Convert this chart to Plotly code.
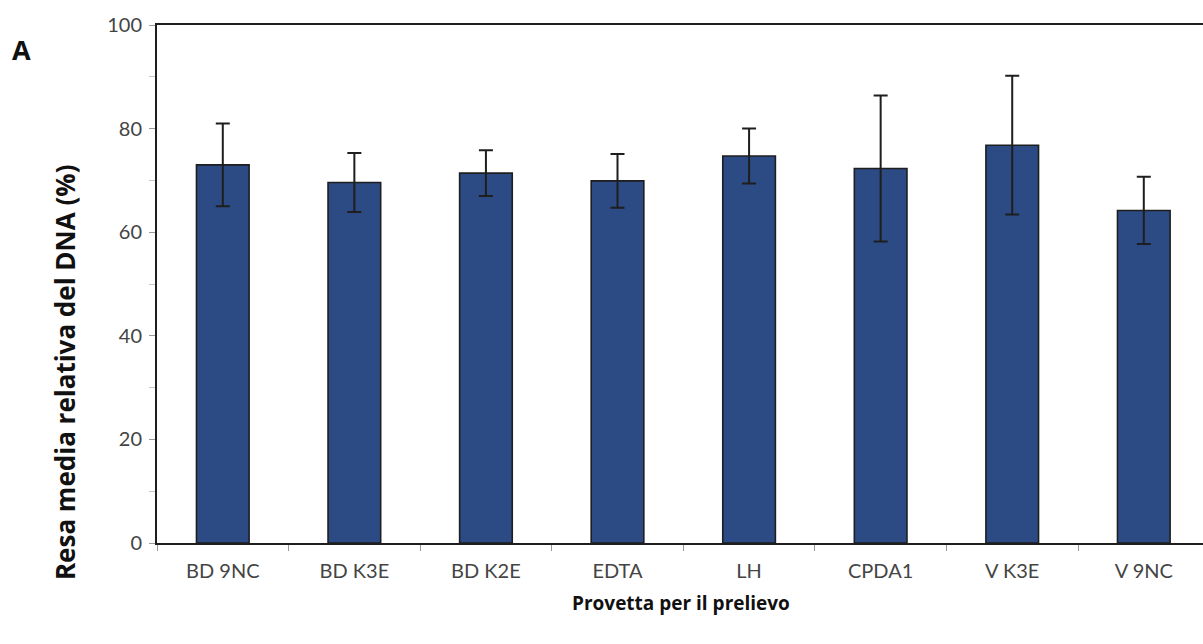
import plotly.graph_objects as go

# Collection tube types and mean relative DNA yield (%) with standard deviation
tubes = ["BD 9NC", "BD K3E", "BD K2E", "EDTA", "LH", "CPDA1", "V K3E", "V 9NC"]
mean_yield = [73.0, 69.6, 71.4, 69.9, 74.7, 72.3, 76.8, 64.2]
std_dev = [8.0, 5.7, 4.4, 5.2, 5.3, 14.1, 13.4, 6.5]

y_ticks = [0, 20, 40, 60, 80, 100]

bar_color = "#2C4B84"
line_color = "#1E1E1E"
tick_font = dict(family="Lato, 'Noto Sans', sans-serif", size=20, color="#444444")
title_family = "'Open Sans', Lato, sans-serif"

fig = go.Figure(
    go.Bar(
        x=tubes,
        y=mean_yield,
        width=0.4,
        marker=dict(color=bar_color, line=dict(color=line_color, width=1.6)),
        error_y=dict(type="data", array=std_dev, visible=True,
                     color=line_color, thickness=2, width=7),
    )
)

fig.update_layout(
    width=1203,
    height=644,
    margin=dict(l=157, r=0, t=25, b=101),
    plot_bgcolor="white",
    paper_bgcolor="white",
    showlegend=False,
    xaxis=dict(
        range=[-0.5, 7.45],
        showline=True, linecolor=line_color, linewidth=2, mirror=True,
        ticks="outside", tickson="boundaries", ticklen=6, tickcolor="#9A9A9A",
        tickfont=tick_font, ticklabelstandoff=9,
        showgrid=False, zeroline=False,
    ),
    yaxis=dict(
        range=[0, 100],
        tickvals=y_ticks,
        showline=True, linecolor=line_color, linewidth=2,
        ticks="outside", ticklen=6, tickcolor="#9A9A9A",
        minor=dict(dtick=10, ticks="outside", ticklen=6, tickcolor="#C8C8C8", showgrid=False),
        tickfont=tick_font, ticklabelstandoff=3,
        showgrid=False, zeroline=False,
    ),
    annotations=[
        dict(text="<b>Resa media relativa del DNA (%)</b>", textangle=-90,
             xref="paper", yref="paper", x=(65 - 157) / 1046, y=0.330,
             xanchor="center", yanchor="middle", showarrow=False,
             font=dict(family=title_family, size=26, color="#111111")),
        dict(text="<b>Provetta per il prelievo</b>",
             xref="paper", yref="paper", x=0.501, y=-0.116,
             xanchor="center", yanchor="middle", showarrow=False,
             font=dict(family=title_family, size=19, color="#111111")),
        dict(text="<b>A</b>",
             xref="paper", yref="paper", x=(21 - 157) / 1046, y=0.952,
             xanchor="center", yanchor="middle", showarrow=False,
             font=dict(family=title_family, size=27, color="#111111")),
    ],
)

fig.write_html("out.html")
